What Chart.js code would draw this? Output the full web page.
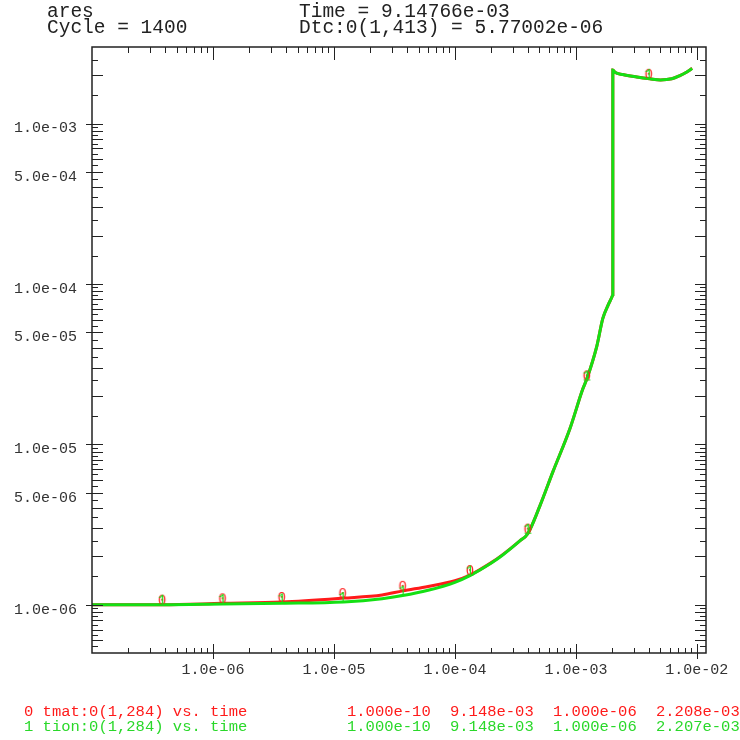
<!DOCTYPE html>
<html>
<head>
<meta charset="utf-8">
<script src="https://cdn.jsdelivr.net/npm/chart.js@4.4.1/dist/chart.umd.min.js"></script>
<style>
  body { margin: 0; background: #fff; }
  #wrap { position: relative; width: 740px; height: 740px; }
  .txt { position: absolute; font-family: "Liberation Mono", monospace; white-space: pre; }
  .head { font-size: 19.5px; line-height: 16px; color: #222; }
  .foot { font-size: 15.5px; line-height: 15px; }
</style>
</head>
<body>
<div id="wrap">
  <canvas id="myChart"></canvas>
</div>
<script>
// header / footer text
const headLeft = ["ares", "Cycle = 1400"];
const headRight = ["Time = 9.14766e-03", "Dtc:0(1,413) = 5.77002e-06"];
const seriesNames = ["0 tmat:0(1,284) vs. time", "1 tion:0(1,284) vs. time"];
const xMinText = ["1.000e-10", "1.000e-10"];
const xMaxText = ["9.148e-03", "9.148e-03"];
const yMinText = ["1.000e-06", "1.000e-06"];
const yMaxText = ["2.208e-03", "2.207e-03"];

// data
const time = [1e-10, 1e-8, 1e-7, 3.8e-7, 1.2e-6, 3.7e-6, 1.2e-5, 2.5e-5, 3.7e-5, 6e-5, 1e-4, 1.33e-4,
  2e-4, 2.5e-4, 3.44e-4, 4.0e-4, 5.04e-4, 6.45e-4, 8.92e-4, 1.14e-3, 1.23e-3, 1.49e-3, 1.67e-3,
  1.85e-3, 2.0e-3, 2.02e-3, 2.02e-3, 2.1e-3, 2.44e-3, 3.19e-3, 4.09e-3, 5.0e-3, 6.2e-3, 7.24e-3,
  8.2e-3, 9.148e-3];
const tmat = [1.0e-6, 1.0e-6, 1.0e-6, 1.0e-6, 1.02e-6, 1.04e-6, 1.10e-6, 1.15e-6, 1.22e-6, 1.30e-6, 1.41e-6, 1.53e-6,
  1.83e-6, 2.06e-6, 2.5e-6, 2.77e-6, 4.13e-6, 6.73e-6, 1.25e-5, 2.21e-5, 2.55e-5, 4.1e-5, 6.1e-5,
  7.4e-5, 8.4e-5, 8.6e-5, 2.16e-3, 2.09e-3, 2.02e-3, 1.95e-3, 1.90e-3, 1.87e-3, 1.90e-3, 1.99e-3,
  2.09e-3, 2.208e-3];
const tion = [1.0e-6, 1.0e-6, 1.0e-6, 1.0e-6, 1.01e-6, 1.02e-6, 1.04e-6, 1.09e-6, 1.14e-6, 1.23e-6, 1.38e-6, 1.52e-6,
  1.82e-6, 2.05e-6, 2.5e-6, 2.77e-6, 4.13e-6, 6.73e-6, 1.25e-5, 2.21e-5, 2.55e-5, 4.1e-5, 6.1e-5,
  7.4e-5, 8.4e-5, 8.6e-5, 2.16e-3, 2.09e-3, 2.02e-3, 1.95e-3, 1.90e-3, 1.87e-3, 1.90e-3, 1.99e-3,
  2.09e-3, 2.207e-3];

// curve label markers
const markerTime = [3.8e-7, 1.2e-6, 3.7e-6, 1.18e-5, 3.7e-5, 1.33e-4, 4.0e-4, 1.23e-3, 4.0e-3];
const markerTmat = [1.0e-6, 1.02e-6, 1.04e-6, 1.10e-6, 1.22e-6, 1.53e-6, 2.77e-6, 2.5e-5, 1.90e-3];
const markerTion = [1.0e-6, 1.01e-6, 1.02e-6, 1.04e-6, 1.14e-6, 1.52e-6, 2.77e-6, 2.5e-5, 1.90e-3];

// axes
const xMin = 1e-7, xMax = 1.19e-2;
const yMin = 5e-7, yMax = 3e-3;
const xTickValues = [1e-6, 1e-5, 1e-4, 1e-3, 1e-2];
const xTickLabels = ["1.0e-06", "1.0e-05", "1.0e-04", "1.0e-03", "1.0e-02"];
const yTickValues = [1e-6, 5e-6, 1e-5, 5e-5, 1e-4, 5e-4, 1e-3];
const yTickLabels = ["1.0e-06", "5.0e-06", "1.0e-05", "5.0e-05", "1.0e-04", "5.0e-04", "1.0e-03"];

const RED = "#ff1a1a", GREEN = "#14e014";

// header and footer as html text
const wrap = document.getElementById("wrap");
function addText(cls, s, left, top, color) {
  const d = document.createElement("div");
  d.className = "txt " + cls;
  d.textContent = s;
  d.style.left = left + "px";
  d.style.top = top + "px";
  if (color) d.style.color = color;
  wrap.appendChild(d);
}
headLeft.forEach((s, i) => addText("head", s, 47, 4 + i * 16));
headRight.forEach((s, i) => addText("head", s, 299, 4 + i * 16));
[RED, "#2ad82a"].forEach((c, i) => {
  const top = 705 + i * 15;
  addText("foot", seriesNames[i], 24, top, c);
  addText("foot", xMinText[i], 347, top, c);
  addText("foot", xMaxText[i], 450, top, c);
  addText("foot", yMinText[i], 553, top, c);
  addText("foot", yMaxText[i], 656, top, c);
});

// small "0" / "1" glyphs used as point styles
function glyph(ch, color) {
  const c = document.createElement("canvas");
  c.width = 16; c.height = 30;
  const g = c.getContext("2d");
  g.font = '14px "Liberation Mono"';
  g.fillStyle = color;
  g.textAlign = "center";
  g.fillText(ch, 8, 15);
  return c;
}

const pts = (xs, ys) => xs.map((t, i) => ({ x: t, y: ys[i] }));

// frame and inward tick marks
const frameTicks = {
  id: "frameTicks",
  afterDraw(chart) {
    const { ctx, chartArea: a, scales: { x, y } } = chart;
    ctx.save();
    ctx.strokeStyle = "#222";
    ctx.lineWidth = 1;
    ctx.beginPath();
    for (let n = -7; n <= -2; n++) {
      for (let m = 1; m <= 9; m++) {
        const v = m * Math.pow(10, n);
        if (v < xMin * 1.001 || v > xMax) continue;
        const px = Math.round(x.getPixelForValue(v)) + 0.5;
        const major = m === 1;
        ctx.moveTo(px, a.bottom + (major ? 6 : 0));
        ctx.lineTo(px, a.bottom - (major ? 9 : 5));
        ctx.moveTo(px, a.top);
        ctx.lineTo(px, a.top + (major ? 13 : 6));
      }
    }
    for (let n = -7; n <= -3; n++) {
      for (let m = 1; m < 10; m += 0.5) {
        const v = m * Math.pow(10, n);
        if (v < yMin * 1.001 || v > yMax * 0.999) continue;
        const py = Math.round(y.getPixelForValue(v)) + 0.5;
        const len = Number.isInteger(m) ? 11 : 6;
        const labelled = yTickValues.some(t => Math.abs(t - v) / t < 1e-6);
        ctx.moveTo(a.left - (labelled ? 6 : 0), py);
        ctx.lineTo(a.left + len, py);
        ctx.moveTo(a.right, py);
        ctx.lineTo(a.right - len, py);
      }
    }
    ctx.stroke();
    ctx.lineWidth = 1.5;
    ctx.strokeRect(a.left, a.top, a.right - a.left, a.bottom - a.top);
    ctx.restore();
  }
};

const tickFont = { family: "Liberation Mono", size: 15 };

const ctx = document.getElementById("myChart").getContext("2d");
const myChart = new Chart(ctx, {
  type: "scatter",
  data: {
    datasets: [
      {
        label: "tmat",
        data: pts(time, tmat),
        showLine: true,
        cubicInterpolationMode: "monotone",
        borderColor: RED,
        borderWidth: 3,
        pointRadius: 0,
        order: 4
      },
      {
        label: "tion",
        data: pts(time, tion),
        showLine: true,
        cubicInterpolationMode: "monotone",
        borderColor: GREEN,
        borderWidth: 3,
        pointRadius: 0,
        order: 3
      },
      {
        label: "tmat marks",
        data: pts(markerTime, markerTmat),
        pointStyle: glyph("0", RED),
        order: 2
      },
      {
        label: "tion marks",
        data: pts(markerTime, markerTion),
        pointStyle: glyph("1", GREEN),
        order: 1
      }
    ]
  },
  options: {
    responsive: true,
    maintainAspectRatio: false,
    animation: false,
    layout: { padding: { top: 47, right: 34, left: 0, bottom: 0 } },
    plugins: { legend: { display: false }, tooltip: { enabled: false } },
    scales: {
      x: {
        type: "logarithmic",
        position: "bottom",
        min: xMin,
        max: xMax,
        grid: { display: false, drawTicks: false },
        border: { display: false },
        afterBuildTicks: s => { s.ticks = xTickValues.map(v => ({ value: v })); },
        afterFit: s => { s.height = 87; },
        ticks: {
          autoSkip: false,
          maxRotation: 0,
          padding: 8,
          font: tickFont,
          color: "#333",
          callback: (v, i) => xTickLabels[i]
        }
      },
      y: {
        type: "logarithmic",
        position: "left",
        min: yMin,
        max: yMax,
        grid: { display: false, drawTicks: false },
        border: { display: false },
        afterBuildTicks: s => { s.ticks = yTickValues.map(v => ({ value: v })); },
        afterFit: s => { s.width = 92; },
        ticks: {
          autoSkip: false,
          padding: 15,
          labelOffset: 5,
          font: tickFont,
          color: "#333",
          callback: (v, i) => yTickLabels[i]
        }
      }
    }
  },
  plugins: [frameTicks]
});
</script>
</body>
</html>
